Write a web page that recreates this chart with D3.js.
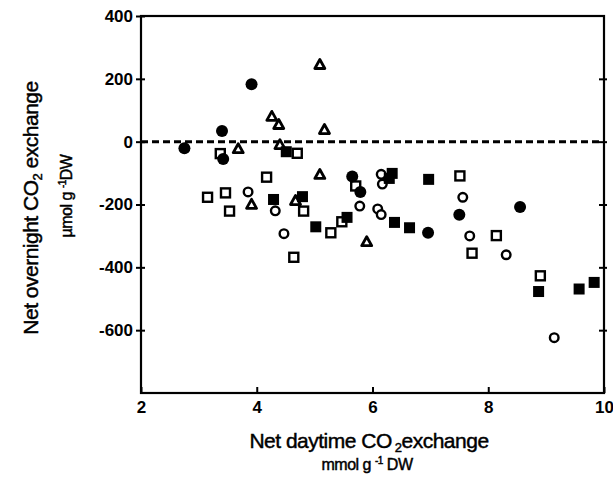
<!DOCTYPE html>
<html>
<head>
<meta charset="utf-8">
<script src="https://cdn.jsdelivr.net/npm/d3@7"></script>
<style>
  html, body { margin: 0; padding: 0; background: #fff; }
  svg { display: block; }
  text { font-family: "Liberation Sans", Arial, Helvetica, sans-serif; fill: #000; }
  .title { stroke: #000; stroke-width: 0.45px; }
</style>
</head>
<body>
<svg id="chart" width="613" height="482"></svg>
<script>
// ---- Data (x: net daytime CO2 exchange, mmol/g DW; y: net overnight CO2 exchange, µmol/g DW)
const filledCircles = [
  [2.75, -21], [3.40, 34], [3.42, -55], [3.91, 183], [5.65, -111],
  [5.79, -160], [6.96, -290], [7.50, -233], [8.55, -208]
];
const openCircles = [
  [3.85, -160], [4.32, -220], [4.47, -293], [5.78, -205], [6.09, -214],
  [6.15, -232], [6.15, -104], [6.17, -135], [7.56, -177], [7.68, -300],
  [8.31, -360], [9.14, -624]
];
const openSquares = [
  [3.37, -38], [4.70, -37], [4.17, -113], [3.15, -177], [3.46, -163],
  [3.53, -221], [4.81, -221], [4.64, -368], [5.28, -290], [5.47, -255],
  [5.71, -141], [7.51, -109], [8.14, -299], [7.72, -355], [8.90, -427]
];
const filledSquares = [
  [4.51, -32], [4.29, -184], [4.79, -175], [5.02, -271], [5.56, -241],
  [6.29, -117], [6.34, -101], [6.38, -257], [6.64, -274], [6.97, -120],
  [8.87, -477], [9.57, -469], [9.83, -448]
];
const openTriangles = [
  [5.09, 244], [4.26, 79], [4.38, 53], [5.17, 37], [3.68, -24],
  [4.40, -11], [5.09, -106], [3.91, -201], [4.67, -189], [5.90, -320]
];
const xTicks = [2, 4, 6, 8, 10];
const yTicks = [400, 200, 0, -200, -400, -600];
const xDomain = [2, 10];
const yDomain = [-800, 400];

// ---- Layout
const svg = d3.select("#chart");
const mLeft = 141, mRight = 604, mTop = 16, mBottom = 393;
const x = d3.scaleLinear().domain(xDomain).range([mLeft, mRight]);
const y = d3.scaleLinear().domain(yDomain).range([mBottom, mTop]);
const fmt = d => String(d);   // plain hyphen-minus as in the original

// frame
svg.append("rect")
  .attr("x", mLeft).attr("y", mTop)
  .attr("width", mRight - mLeft).attr("height", mBottom - mTop)
  .attr("fill", "none").attr("stroke", "#000").attr("stroke-width", 2.2);

// left axis (ticks cross the axis line)
const yAxisL = svg.append("g").attr("transform", `translate(${mLeft},0)`)
  .call(d3.axisLeft(y).tickValues(yTicks).tickSize(5).tickSizeOuter(0).tickPadding(5).tickFormat(fmt));
yAxisL.select(".domain").remove();
yAxisL.selectAll(".tick line").attr("x2", -5).attr("x1", 4).attr("stroke-width", 2);
yAxisL.selectAll(".tick text")
  .attr("x", -8)
  .style("font-family", "'Liberation Sans', Arial, sans-serif")
  .style("font-size", "17px").style("font-weight", "bold");

// right axis ticks
const yAxisR = svg.append("g").attr("transform", `translate(${mRight},0)`)
  .call(d3.axisRight(y).tickValues(yTicks.filter(v => v !== 400)).tickSize(4).tickSizeOuter(0).tickFormat(""));
yAxisR.select(".domain").remove();
yAxisR.selectAll(".tick line").attr("x1", -5).attr("x2", 3).attr("stroke-width", 2);

// bottom axis (ticks point inward)
const xAxis = svg.append("g").attr("transform", `translate(0,${mBottom})`)
  .call(d3.axisBottom(x).tickValues(xTicks).tickSize(0).tickPadding(8).tickFormat(fmt));
xAxis.select(".domain").remove();
xAxis.selectAll(".tick line").attr("y1", 0).attr("y2", -6).attr("stroke-width", 2);
xAxis.selectAll(".tick text")
  .style("font-family", "'Liberation Sans', Arial, sans-serif")
  .style("font-size", "17px").style("font-weight", "bold");

// zero dashed line
svg.append("line")
  .attr("x1", mLeft).attr("x2", mRight)
  .attr("y1", y(0)).attr("y2", y(0))
  .attr("stroke", "#000").attr("stroke-width", 3)
  .attr("stroke-dasharray", "7,4");

// ---- Markers
const g = svg.append("g");
g.selectAll(".oc").data(openCircles).join("circle")
  .attr("cx", d => x(d[0])).attr("cy", d => y(d[1])).attr("r", 4.3)
  .attr("fill", "#fff").attr("stroke", "#000").attr("stroke-width", 2.4);
g.selectAll(".os").data(openSquares).join("rect")
  .attr("x", d => x(d[0]) - 4.5).attr("y", d => y(d[1]) - 4.5)
  .attr("width", 9).attr("height", 9)
  .attr("fill", "#fff").attr("stroke", "#000").attr("stroke-width", 2.4);
g.selectAll(".ot").data(openTriangles).join("path")
  .attr("d", d => {
    const cx = x(d[0]), cy = y(d[1]);
    return `M${cx},${cy - 5.5}L${cx + 5},${cy + 3.5}L${cx - 5},${cy + 3.5}Z`;
  })
  .attr("fill", "#fff").attr("stroke", "#000").attr("stroke-width", 2.8)
  .attr("stroke-linejoin", "round");
g.selectAll(".fs").data(filledSquares).join("rect")
  .attr("x", d => x(d[0]) - 5.5).attr("y", d => y(d[1]) - 5.5)
  .attr("width", 11).attr("height", 11).attr("fill", "#000");
g.selectAll(".fc").data(filledCircles).join("circle")
  .attr("cx", d => x(d[0])).attr("cy", d => y(d[1])).attr("r", 6)
  .attr("fill", "#000");

// ---- Axis titles
const xt = svg.append("text").attr("class", "title")
  .attr("x", 369).attr("y", 448)
  .attr("text-anchor", "middle")
  .style("font-size", "21px").style("letter-spacing", "-0.5px");
xt.append("tspan").text("Net daytime CO");
xt.append("tspan").attr("dy", 4).attr("dx", 3).style("font-size", "13px").text("2");
xt.append("tspan").attr("dy", -4).text("exchange");

const xs = svg.append("text").attr("class", "title")
  .attr("x", 367).attr("y", 470)
  .attr("text-anchor", "middle")
  .style("font-size", "16px").style("letter-spacing", "-0.5px");
xs.append("tspan").text("mmol g");
xs.append("tspan").attr("dy", -6).attr("dx", 4).style("font-size", "10px").text("-1");
xs.append("tspan").attr("dy", 6).text(" DW");

const yt = svg.append("text").attr("class", "title")
  .attr("transform", "translate(38,208) rotate(-90)")
  .attr("text-anchor", "middle")
  .style("font-size", "21px").style("letter-spacing", "-0.5px");
yt.append("tspan").text("Net overnight CO");
yt.append("tspan").attr("dy", 4).style("font-size", "13px").text("2");
yt.append("tspan").attr("dy", -4).text(" exchange");

const ys = svg.append("text").attr("class", "title")
  .attr("transform", "translate(72,196) rotate(-90)")
  .attr("text-anchor", "middle")
  .style("font-size", "16px").style("letter-spacing", "-0.5px");
ys.append("tspan").text("µmol g");
ys.append("tspan").attr("dy", -6).attr("dx", 4).style("font-size", "10px").text("-1");
ys.append("tspan").attr("dy", 6).text("DW");
</script>
</body>
</html>
